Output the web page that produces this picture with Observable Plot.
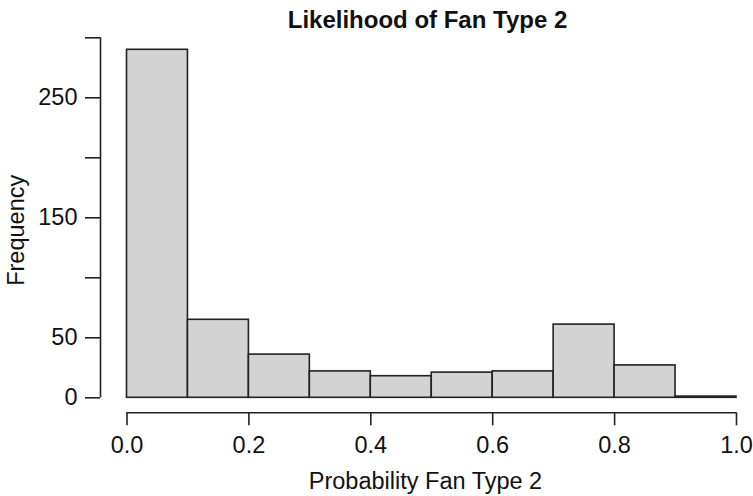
<!DOCTYPE html>
<html>
<head>
<meta charset="utf-8">
<script src="https://cdn.jsdelivr.net/npm/d3@7"></script>
<script src="https://cdn.jsdelivr.net/npm/@observablehq/plot@0.6"></script>
<style>
  html, body { margin: 0; padding: 0; background: #fff; }
  #chart { width: 753px; height: 496px; }
  svg { font-family: "Liberation Sans", Arial, sans-serif; }
</style>
</head>
<body>
<div id="chart"></div>
<script>
const binStarts = [0.0, 0.1, 0.2, 0.3, 0.4, 0.5, 0.6, 0.7, 0.8, 0.9];
const binEnds   = [0.1, 0.2, 0.3, 0.4, 0.5, 0.6, 0.7, 0.8, 0.9, 1.0];
const counts    = [290, 65, 36, 22, 18, 21, 22, 61, 27, 1];
const xTicks = [0, 0.2, 0.4, 0.6, 0.8, 1.0];
const xTickLabels = ["0.0", "0.2", "0.4", "0.6", "0.8", "1.0"];
const yTicks = [0, 50, 100, 150, 200, 250, 300];
const yTickLabels = ["0", "50", "", "150", "", "250", ""];
const title = "Likelihood of Fan Type 2";
const xTitle = "Probability Fan Type 2";
const yTitle = "Frequency";

const bins = binStarts.map((s, i) => ({x1: s, x2: binEnds[i], count: counts[i]}));

const chart = Plot.plot({
  width: 753,
  height: 496,
  marginLeft: 100,
  insetLeft: 26.5,
  marginRight: 17,
  marginTop: 37.3,
  marginBottom: 83.7,
  insetBottom: 15,
  style: {fontFamily: "'Liberation Sans', Arial, sans-serif", fontSize: "23.5px", color: "#111"},
  x: {domain: [0, 1]},
  y: {domain: [0, 300]},
  marks: [
    Plot.rectY(bins, {x1: "x1", x2: "x2", y: "count", fill: "#d3d3d3", stroke: "#222", strokeWidth: 1.6}),
    Plot.ruleX([0], {y1: 0, y2: 300, dx: -26.5, stroke: "#222", strokeWidth: 1.6}),
    Plot.ruleY([0], {x1: 0, x2: 1, dy: 15, stroke: "#222", strokeWidth: 1.6}),
    Plot.axisY({ticks: yTicks, tickFormat: (d) => yTickLabels[yTicks.indexOf(d)], tickSize: 15, tickPadding: 8, strokeWidth: 1.6, stroke: "#222", label: null, fontSize: 23.5}),
    Plot.axisX({ticks: xTicks, tickFormat: (d) => xTickLabels[xTicks.indexOf(d)], tickSize: 13, tickPadding: 11, strokeWidth: 1.6, stroke: "#222", label: null, fontSize: 23.5}),
    Plot.text([yTitle], {frameAnchor: "left", textAnchor: "middle", lineAnchor: "middle", rotate: -90, dx: -84.5, dy: 5, fontSize: 23.5, fill: "#111"}),
    Plot.text([xTitle], {frameAnchor: "bottom", textAnchor: "middle", lineAnchor: "middle", dx: 7, dy: 69, fontSize: 23.5, fill: "#111"}),
    Plot.text([title], {frameAnchor: "top", textAnchor: "middle", lineAnchor: "middle", dx: 9, dy: -17, fontSize: 24, fontWeight: "bold", fill: "#111"})
  ]
});
document.getElementById("chart").appendChild(chart);
</script>
</body>
</html>
